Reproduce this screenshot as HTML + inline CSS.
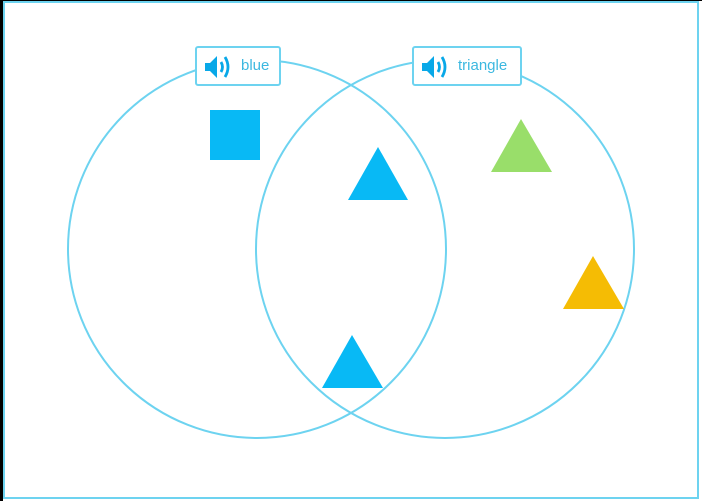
<!DOCTYPE html>
<html><head><style>
html,body{margin:0;padding:0;width:702px;height:501px;overflow:hidden;background:#fff}
.lbl{position:absolute;height:36px;border:2px solid #6dd3f0;border-radius:3px;background:#fff;font-family:"Liberation Sans","DejaVu Sans",sans-serif;font-size:15px;color:#3cb8e0;line-height:36px;box-sizing:content-box}
.lbl svg{position:absolute;left:7px;top:7px}
.lbl span{position:absolute;left:44px;top:0}
</style></head><body>
<div style="position:absolute;left:0;top:0;width:3px;height:501px;background:#000"></div>
<div style="position:absolute;left:0;top:0;width:702px;height:1px;background:#000"></div>
<div style="position:absolute;left:3px;top:1px;width:692px;height:494px;border:2px solid #6dd3f0"></div>
<svg width="702" height="501" style="position:absolute;left:0;top:0">
<circle cx="257" cy="249" r="189" fill="none" stroke="#6dd3f0" stroke-width="2"/>
<circle cx="445" cy="249" r="189" fill="none" stroke="#6dd3f0" stroke-width="2"/>
<rect x="210" y="110" width="50" height="50" fill="#08b9f5"/>
<polygon points="378,147 348,200 408,200" fill="#08b9f5"/>
<polygon points="352,335 322,388 383,388" fill="#08b9f5"/>
<polygon points="521,119 491,172 552,172" fill="#99de6a"/>
<polygon points="593,256 563,309 624,309" fill="#f5bc04"/>
</svg>
<div class="lbl" style="left:195px;top:46px;width:82px"><svg width="28" height="24" viewBox="0 0 28 24"><polygon points="1,8 6,8 13,1 13,23 6,16 1,16" fill="#08a8e8"/><path d="M17,7 Q20,12 17,17" stroke="#08a8e8" stroke-width="2.8" fill="none"/><path d="M21,2 Q27,12 21,22" stroke="#08a8e8" stroke-width="2.8" fill="none"/></svg><span>blue</span></div>
<div class="lbl" style="left:412px;top:46px;width:106px"><svg width="28" height="24" viewBox="0 0 28 24"><polygon points="1,8 6,8 13,1 13,23 6,16 1,16" fill="#08a8e8"/><path d="M17,7 Q20,12 17,17" stroke="#08a8e8" stroke-width="2.8" fill="none"/><path d="M21,2 Q27,12 21,22" stroke="#08a8e8" stroke-width="2.8" fill="none"/></svg><span>triangle</span></div>
</body></html>
